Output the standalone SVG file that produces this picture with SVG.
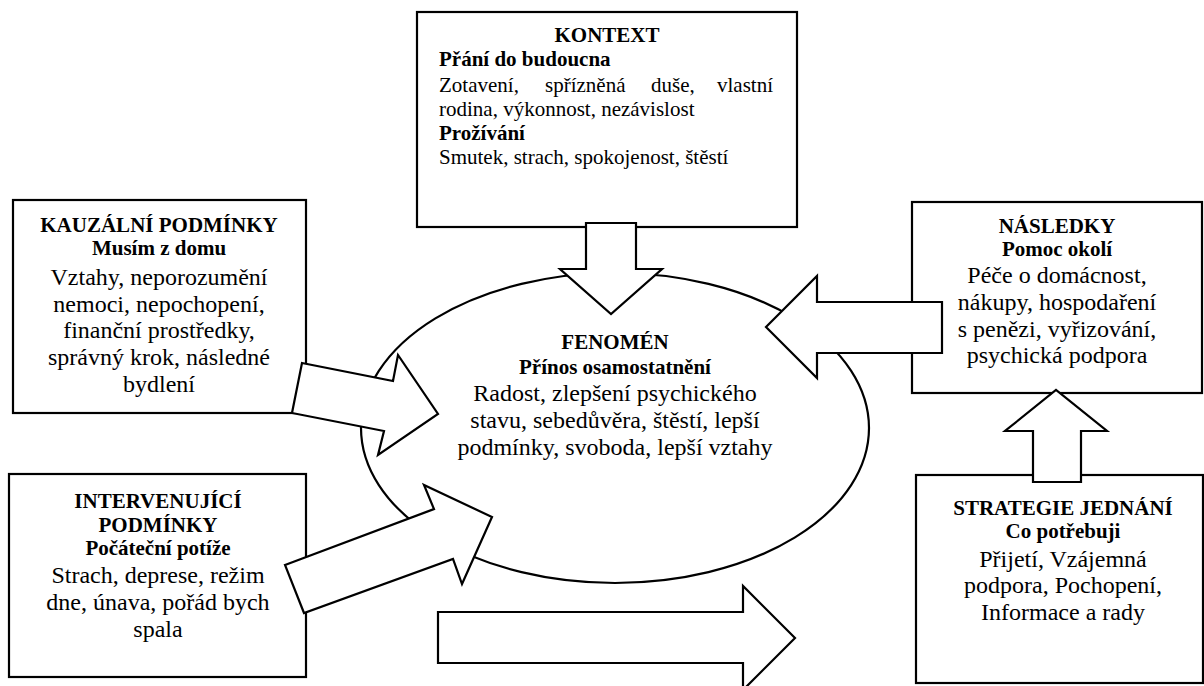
<svg xmlns="http://www.w3.org/2000/svg" width="1204" height="686" viewBox="0 0 1204 686">
<style>
.box{fill:#fff;stroke:#000;stroke-width:2.2}
.arr{fill:#fff;stroke:#000;stroke-width:2.2;stroke-linejoin:miter}
text{fill:#000}
.h{font-weight:bold;font-size:21px}
.b{font-size:24px}
.k{font-size:21px}
.c{text-anchor:middle}
</style>
<rect width="1204" height="686" fill="#fff"/>
<g font-family="Liberation Serif, serif">
<g id="kontext">
<rect class="box" x="417" y="12" width="380" height="215"/>
<text class="h c" x="607" y="42">KONTEXT</text>
<text class="h" x="439" y="66">Přání do budoucna</text>
<text class="k" y="92"><tspan x="439">Zotavení,</tspan><tspan x="545">spřízněná</tspan><tspan x="651">duše,</tspan><tspan x="773" text-anchor="end">vlastní</tspan></text>
<text class="k" x="439" y="116">rodina, výkonnost, nezávislost</text>
<text class="h" x="439" y="140">Prožívání</text>
<text class="k" x="439" y="164">Smutek, strach, spokojenost, štěstí</text>
</g>
<g id="kauzalni">
<rect class="box" x="13" y="200" width="293" height="213"/>
<text class="h c" x="159" y="232">KAUZÁLNÍ PODMÍNKY</text>
<text class="h c" x="159" y="255">Musím z domu</text>
<text class="b c" x="159" y="285">Vztahy, neporozumění</text>
<text class="b c" x="159" y="312">nemoci, nepochopení,</text>
<text class="b c" x="159" y="338">finanční prostředky,</text>
<text class="b c" x="159" y="365">správný krok, následné</text>
<text class="b c" x="159" y="392">bydlení</text>
</g>
<g id="intervenujici">
<rect class="box" x="9" y="474" width="297" height="203"/>
<text class="h c" x="158" y="508">INTERVENUJÍCÍ</text>
<text class="h c" x="158" y="532">PODMÍNKY</text>
<text class="h c" x="158" y="555">Počáteční potíže</text>
<text class="b c" x="158" y="583">Strach, deprese, režim</text>
<text class="b c" x="158" y="610">dne, únava, pořád bych</text>
<text class="b c" x="158" y="637">spala</text>
</g>
<g id="nasledky">
<rect class="box" x="912" y="202" width="290" height="191"/>
<text class="h c" x="1057" y="233">NÁSLEDKY</text>
<text class="h c" x="1057" y="256">Pomoc okolí</text>
<text class="b c" x="1057" y="283">Péče o domácnost,</text>
<text class="b c" x="1057" y="310">nákupy, hospodaření</text>
<text class="b c" x="1057" y="337">s penězi, vyřizování,</text>
<text class="b c" x="1057" y="363">psychická podpora</text>
</g>
<g id="strategie">
<rect class="box" x="916" y="475" width="287" height="208"/>
<text class="h c" x="1063" y="515">STRATEGIE JEDNÁNÍ</text>
<text class="h c" x="1063" y="538">Co potřebuji</text>
<text class="b c" x="1063" y="567">Přijetí, Vzájemná</text>
<text class="b c" x="1063" y="593">podpora, Pochopení,</text>
<text class="b c" x="1063" y="620">Informace a rady</text>
</g>
<g id="fenomen">
<ellipse class="box" cx="615" cy="428" rx="254" ry="155"/>
<text class="h c" x="615" y="349">FENOMÉN</text>
<text class="h c" x="615" y="374">Přínos osamostatnění</text>
<text class="b c" x="615" y="401">Radost, zlepšení psychického</text>
<text class="b c" x="615" y="428">stavu, sebedůvěra, štěstí, lepší</text>
<text class="b c" x="615" y="455">podmínky, svoboda, lepší vztahy</text>
</g>
</g>
<g id="connectors">
<polygon class="arr" points="586,223 636,223 636,269 662,269 611,314 560,269 586,269"/>
<polygon class="arr" points="302,363 393,381 398,355 438,414 378,455 384,431 292,413"/>
<polygon class="arr" points="285,565 434,509 424,485 492,517 462,584 453,559 304,613"/>
<polygon class="arr" points="942,302 817,302 817,276 766,327 817,378 817,353 942,353"/>
<polygon class="arr" points="1033,482 1033,431 1005,431 1056,390 1107,431 1081,431 1081,482"/>
<polygon class="arr" points="438,612 743,612 743,586 795,638 743,690 743,663 438,663"/>
</g>
</svg>
